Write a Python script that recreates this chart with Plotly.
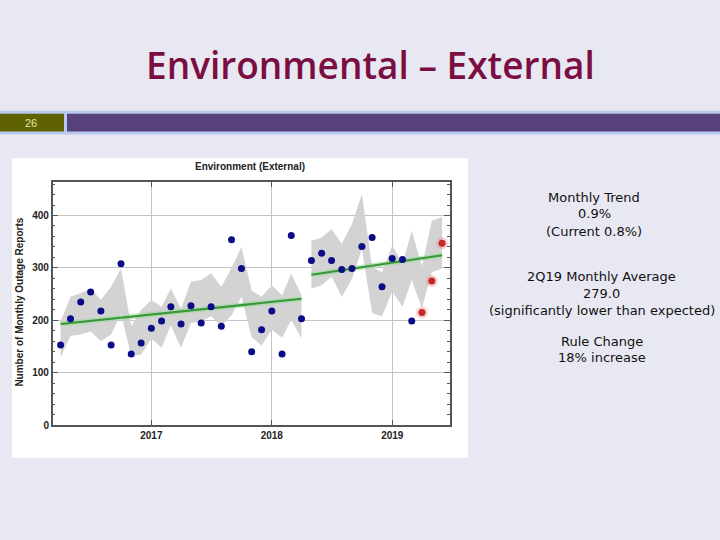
import plotly.graph_objects as go

# ---------------- data ----------------
months = [
    "2016-04-01", "2016-05-01", "2016-06-01", "2016-07-01", "2016-08-01", "2016-09-01",
    "2016-10-01", "2016-11-01", "2016-12-01",
    "2017-01-01", "2017-02-01", "2017-03-01", "2017-04-01", "2017-05-01", "2017-06-01",
    "2017-07-01", "2017-08-01", "2017-09-01", "2017-10-01", "2017-11-01", "2017-12-01",
    "2018-01-01", "2018-02-01", "2018-03-01", "2018-04-01", "2018-05-01", "2018-06-01",
    "2018-07-01", "2018-08-01", "2018-09-01", "2018-10-01", "2018-11-01", "2018-12-01",
    "2019-01-01", "2019-02-01", "2019-03-01", "2019-04-01", "2019-05-01", "2019-06-01",
]
reports = [153, 203, 235, 254, 218, 153, 308, 136, 157,
           185, 199, 226, 193, 228, 195, 226, 189, 354, 299, 140, 182,
           218, 136, 362, 203, 314, 328, 314, 297, 299, 341, 358, 264,
           318, 316, 199, 215, 275, 347]
n_current = 3  # last quarter (2Q19) highlighted

# expected range band (before / after rule change)
band1_upper = [198, 245, 252, 261, 239, 264, 299, 189, 220,
               239, 226, 261, 222, 274, 277, 290, 264, 300, 340, 257, 245,
               267, 248, 289, 248]
band1_lower = [129, 170, 173, 179, 160, 173, 213, 132, 135,
               165, 148, 190, 148, 195, 198, 208, 189, 210, 245, 168, 152,
               182, 167, 201, 166]
band2_upper = [352, 358, 374, 346, 384, 441, 302, 292, 343, 308, 371, 303, 390, 397]
band2_lower = [261, 267, 283, 245, 279, 336, 214, 208, 255, 226, 277, 223, 292, 299]

trend1 = [193, 241]   # 2016-04 -> 2018-04
trend2 = [287, 324]   # 2018-05 -> 2019-06

year_ticks = ["2017-01-01", "2018-01-01", "2019-01-01"]
year_labels = ["2017", "2018", "2019"]

text_lines = [
    ("Monthly Trend", 198, 594), ("0.9%", 214, 594), ("(Current 0.8%)", 232, 594),
    ("2Q19 Monthly Average", 278, 601), ("279.0", 295, 601),
    ("(significantly lower than expected)", 312, 602),
    ("Rule Change", 343, 602), ("18% increase", 360, 602),
]

W, H = 720, 540
def px(x): return x / W
def py(y): return 1 - y / H

n1 = len(band1_upper)
m1 = months[:n1]
m2 = months[n1:]

fig = go.Figure()
GRAY = "#d3d3d3"
fig.add_trace(go.Scatter(x=m1 + m1[::-1], y=band1_upper + band1_lower[::-1], fill="toself",
                         fillcolor=GRAY, line=dict(width=0), mode="lines", hoverinfo="skip"))
fig.add_trace(go.Scatter(x=m2 + m2[::-1], y=band2_upper + band2_lower[::-1], fill="toself",
                         fillcolor=GRAY, line=dict(width=0), mode="lines", hoverinfo="skip"))
# trend lines with soft glow
for seg, ys in ((m1, trend1), (m2, trend2)):
    fig.add_trace(go.Scatter(x=[seg[0], seg[-1]], y=ys, mode="lines",
                             line=dict(color="rgba(150,220,150,0.6)", width=5), hoverinfo="skip"))
    fig.add_trace(go.Scatter(x=[seg[0], seg[-1]], y=ys, mode="lines",
                             line=dict(color="#3a963a", width=2), hoverinfo="skip"))
# points
fig.add_trace(go.Scatter(x=months[:-n_current], y=reports[:-n_current], mode="markers",
                         marker=dict(color="#0b0b88", size=7)))
fig.add_trace(go.Scatter(x=months[-n_current:], y=reports[-n_current:], mode="markers",
                         marker=dict(color="rgba(235,130,130,0.35)", size=12)))
fig.add_trace(go.Scatter(x=months[-n_current:], y=reports[-n_current:], mode="markers",
                         marker=dict(color="#c0282a", size=7)))

axis_common = dict(showline=True, linecolor="#555555", linewidth=1.5, mirror="ticks",
                   ticks="inside", tickcolor="#555555", showgrid=True, gridcolor="#c4c4c4",
                   gridwidth=1, zeroline=False,
                   tickfont=dict(family="Liberation Sans, Arial", size=10, color="#222222", weight="bold"))
fig.update_xaxes(type="date", range=["2016-03-08", "2019-06-25"], tickvals=year_ticks,
                 ticktext=year_labels, ticklen=5, domain=[px(52.7), px(450)], **axis_common)
fig.update_yaxes(range=[0, 464], tickvals=[0, 100, 200, 300, 400], ticklen=6,
                 minor=dict(dtick=20, ticks="inside", ticklen=3, tickcolor="#555555", showgrid=False),
                 domain=[py(430), py(184)], **axis_common)

shapes = [
    # chart white panel
    dict(type="rect", xref="paper", yref="paper", x0=px(12), x1=px(468), y0=py(463), y1=py(160),
         fillcolor="white", line=dict(width=0), layer="below"),
    # header bar
    dict(type="rect", xref="paper", yref="paper", x0=0, x1=1, y0=py(136), y1=py(112),
         fillcolor="#b7c9ec", line=dict(width=0), layer="below"),
    dict(type="rect", xref="paper", yref="paper", x0=px(67), x1=1, y0=py(133), y1=py(115),
         fillcolor="#58427e", line=dict(width=0), layer="below"),
    dict(type="rect", xref="paper", yref="paper", x0=0, x1=px(64), y0=py(133), y1=py(115),
         fillcolor="#5f6200", line=dict(width=0), layer="below"),
]

annotations = [
    dict(text="Environmental – External", x=px(371), y=py(65), xref="paper", yref="paper",
         showarrow=False, xanchor="center", yanchor="middle",
         font=dict(family="Open Sans, Liberation Sans", size=37, color="#7a0e42", weight=600)),
    dict(text="26", x=px(31), y=py(124), xref="paper", yref="paper", showarrow=False,
         xanchor="center", yanchor="middle",
         font=dict(family="Liberation Sans, Arial", size=11, color="#e6e6b0")),
    dict(text="<b>Environment (External)</b>", x=px(250), y=py(168), xref="paper", yref="paper",
         showarrow=False, xanchor="center", yanchor="middle",
         font=dict(family="Liberation Sans, Arial", size=10, color="#222222")),
    dict(text="<b>Number of Monthly Outage Reports</b>", x=px(20), y=py(306), xref="paper",
         yref="paper", showarrow=False, textangle=-90, xanchor="center", yanchor="middle",
         font=dict(family="Liberation Sans, Arial", size=10, color="#222222")),
]
for t, y, x in text_lines:
    annotations.append(dict(text=t, x=px(x), y=py(y + 2), xref="paper", yref="paper", showarrow=False,
                            xanchor="center", yanchor="middle",
                            font=dict(family="DejaVu Sans, Liberation Sans", size=13, color="#111111")))

fig.update_layout(width=W, height=H, margin=dict(l=0, r=0, t=0, b=0),
                  paper_bgcolor="#e8e8f2", plot_bgcolor="white", showlegend=False,
                  shapes=shapes, annotations=annotations)

fig.write_html("out.html", config={"displayModeBar": False},
               post_script="document.body.style.margin='0';document.body.style.overflow='hidden';")
